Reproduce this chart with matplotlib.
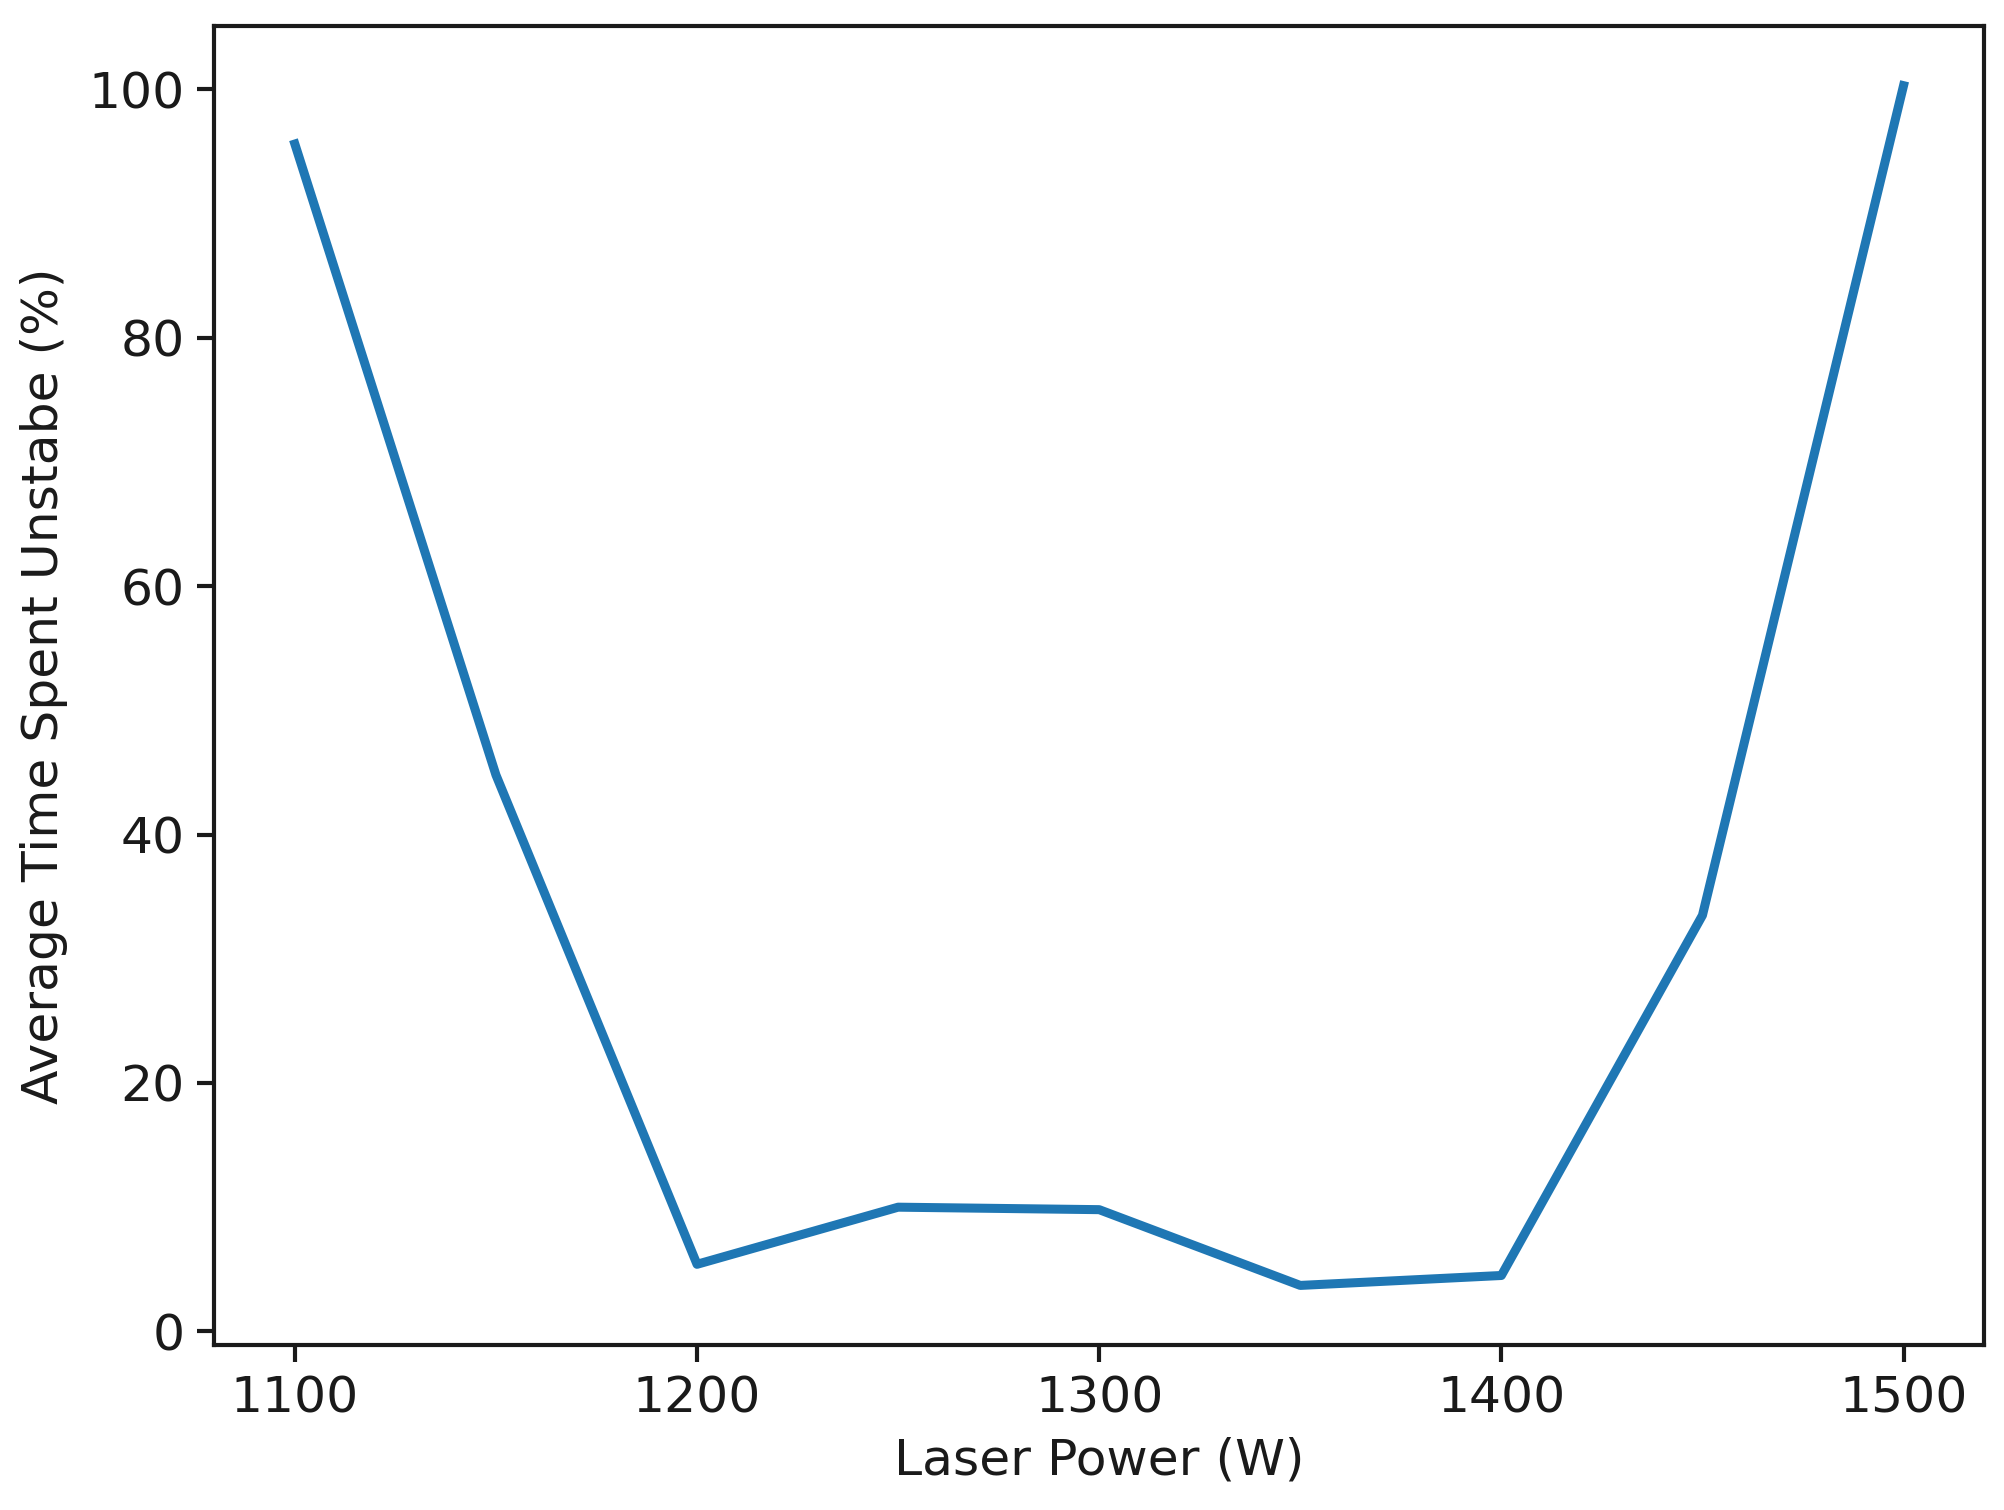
import matplotlib
matplotlib.use("Agg")
import matplotlib.pyplot as plt

# Laser power sweep vs. unstable time
laser_power = [1100, 1150, 1200, 1250, 1300, 1350, 1400, 1450, 1500]
time_unstable = [95.6, 44.8, 5.4, 10.0, 9.8, 3.7, 4.5, 33.5, 100.3]

plt.rcParams['font.family'] = ['DejaVu Sans']
plt.rcParams['text.color'] = '#1a1a1a'
plt.rcParams['axes.labelcolor'] = '#1a1a1a'
plt.rcParams['xtick.color'] = '#1a1a1a'
plt.rcParams['ytick.color'] = '#1a1a1a'

fig = plt.figure(figsize=(8.016, 6.04), dpi=250)
ax = fig.add_axes([0.107, 0.109, 0.883, 0.874])
ax.plot(laser_power, time_unstable, color='#1f77b4', linewidth=2.6)

ax.set_xlabel('Laser Power (W)', fontsize=14.5, labelpad=4)
ax.set_ylabel('Average Time Spent Unstabe (%)', fontsize=14.5, labelpad=6)
ax.set_xticks([1100, 1200, 1300, 1400, 1500])
ax.set_yticks([0, 20, 40, 60, 80, 100])
ax.tick_params(labelsize=14.5, width=1.2, length=5)
for s in ax.spines.values():
    s.set_linewidth(1.2)
    s.set_color('#1a1a1a')

fig.savefig('out.png', dpi=250)
